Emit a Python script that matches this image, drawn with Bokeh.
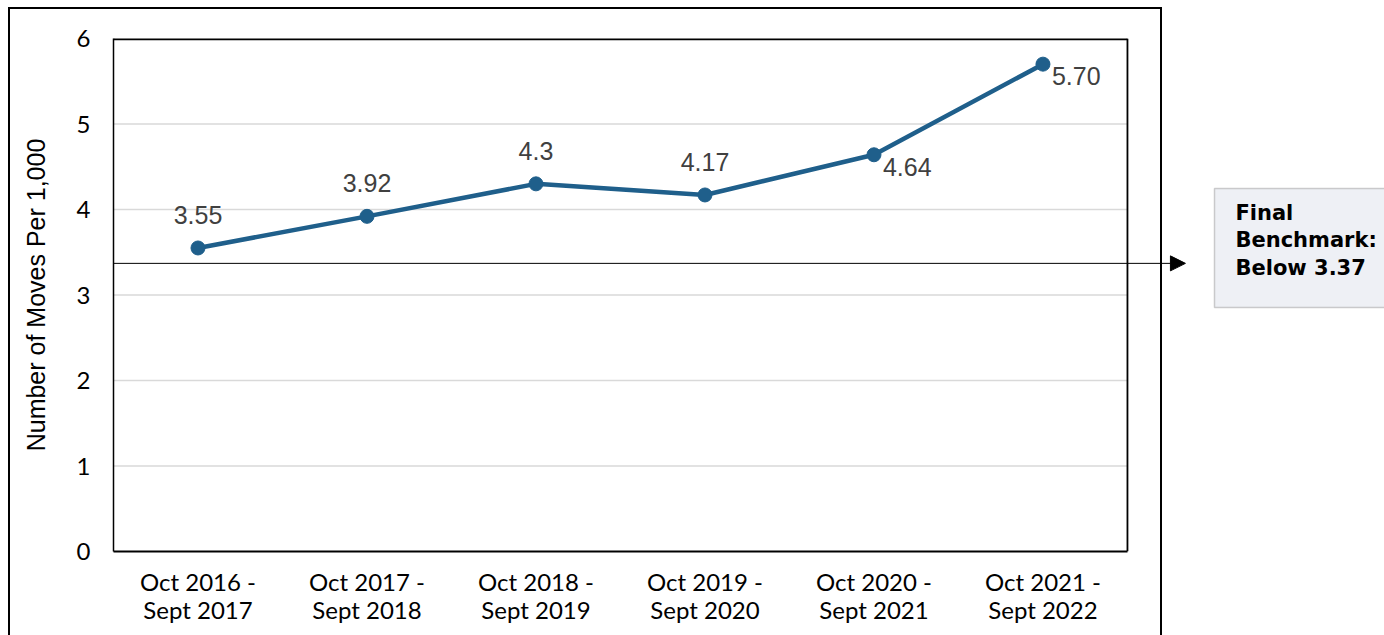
from bokeh.plotting import figure
from bokeh.models import (Range1d, FixedTicker, Arrow, NormalHead, BoxAnnotation,
                          Label, ColumnDataSource, InlineStyleSheet)
from bokeh.core.properties import value
from bokeh.embed import file_html
from bokeh.resources import INLINE

# ---- data ----
periods = ["Oct 2016 -\nSept 2017", "Oct 2017 -\nSept 2018", "Oct 2018 -\nSept 2019",
           "Oct 2019 -\nSept 2020", "Oct 2020 -\nSept 2021", "Oct 2021 -\nSept 2022"]
moves = [3.55, 3.92, 4.30, 4.17, 4.64, 5.70]
value_labels = ["3.55", "3.92", "4.3", "4.17", "4.64", "5.70"]
label_side = ["above", "above", "above", "above", "right", "right"]
benchmark = 3.37
benchmark_text = "Final\nBenchmark:\nBelow 3.37"
y_ticks = [0, 1, 2, 3, 4, 5, 6]

LINE_COLOR = "#1f5f8b"

n = len(periods)
xs = list(range(n))
x_lo, x_hi = -0.5, n - 0.5          # plot-area extent (category slots)
X_VIEW_END = 7.021                  # frame continues to the right for the benchmark call-out

p = figure(width=1384, height=635, output_backend="svg", toolbar_location=None,
           x_range=Range1d(x_lo, X_VIEW_END), y_range=Range1d(y_ticks[0], y_ticks[-1]),
           min_border_left=113, min_border_right=0, min_border_top=38,
           min_border_bottom=84)

p.outline_line_color = None
p.grid.visible = False

p.xaxis.ticker = FixedTicker(ticks=xs)
p.xaxis.major_label_overrides = {i: s for i, s in enumerate(periods)}
p.xaxis.bounds = (x_lo, x_hi)
p.yaxis.ticker = FixedTicker(ticks=y_ticks)
for ax in (p.xaxis, p.yaxis):
    ax.axis_line_color = "black"
    ax.axis_line_width = 1.5
    ax.major_tick_line_color = None
    ax.minor_tick_line_color = None
    ax.major_label_text_font = "Lato"
    ax.major_label_text_font_size = "24px"
    ax.major_label_text_color = "black"
p.xaxis.axis_line_width = 2
p.xaxis.major_label_standoff = 9
p.xaxis.major_label_text_line_height = 0.97
p.yaxis.major_label_standoff = 17
p.yaxis.axis_label = "Number of Moves Per 1,000"
p.yaxis.axis_label_text_font = "Liberation Sans"
p.yaxis.axis_label_text_font_size = "25px"
p.yaxis.axis_label_text_font_style = "normal"
p.yaxis.axis_label_text_color = "black"
p.yaxis.axis_label_standoff = 24

# horizontal gridlines (only across the plot area)
grid_y = y_ticks[1:-1]
p.segment(x0=[x_lo] * len(grid_y), x1=[x_hi] * len(grid_y), y0=grid_y, y1=grid_y,
          line_color="#d9d9d9", line_width=1.5)
# plot-area top and right edges
edges = ColumnDataSource(dict(x0=[x_lo, x_hi], x1=[x_hi, x_hi],
                              y0=[y_ticks[-1], y_ticks[0]], y1=[y_ticks[-1], y_ticks[-1]],
                              w=[3.5, 1.8]))
p.segment(x0="x0", x1="x1", y0="y0", y1="y1", source=edges,
          line_color="black", line_width="w")

src = ColumnDataSource(dict(x=xs, y=moves, lab=value_labels,
                            dx=[0 if s == "above" else 9 for s in label_side],
                            dy=[-33 if s == "above" else 12 for s in label_side],
                            al=["center" if s == "above" else "left" for s in label_side]))
p.line("x", "y", source=src, line_color=LINE_COLOR, line_width=4.5)
p.scatter("x", "y", source=src, size=14, fill_color=LINE_COLOR, line_color=LINE_COLOR)
p.text("x", "y", text="lab", source=src, x_offset="dx", y_offset="dy",
       text_align="al", text_baseline="middle", text_font=value("Liberation Sans"),
       text_font_size="25px", text_color="#404040")

# benchmark arrow
p.add_layout(Arrow(end=NormalHead(size=15, fill_color="black", line_color="black"),
                   x_start=x_lo, y_start=benchmark, x_end=5.843, y_end=benchmark,
                   line_color="black", line_width=1))

# benchmark call-out box
p.add_layout(BoxAnnotation(left=6.015, right=8, top=4.246, bottom=2.854,
                           fill_color="#eef0f5", fill_alpha=1,
                           line_color="#5f5f5f", line_width=1.5))
p.add_layout(Label(x=6.139, y=4.105, text=benchmark_text, text_baseline="top",
                   text_font="DejaVu Sans", text_font_style="bold", text_font_size="21px",
                   text_line_height=1.15, text_color="black"))

# outer chart border (page decoration)
p.stylesheets = [InlineStyleSheet(css=(
    ":host::after {content: ''; position: absolute; left: 8px; top: 7px; "
    "width: 1154px; height: 628px; border: 2px solid black; border-bottom: none; "
    "box-sizing: border-box; pointer-events: none; z-index: 5;}"))]

open("out.html", "w").write(file_html(p, INLINE))
